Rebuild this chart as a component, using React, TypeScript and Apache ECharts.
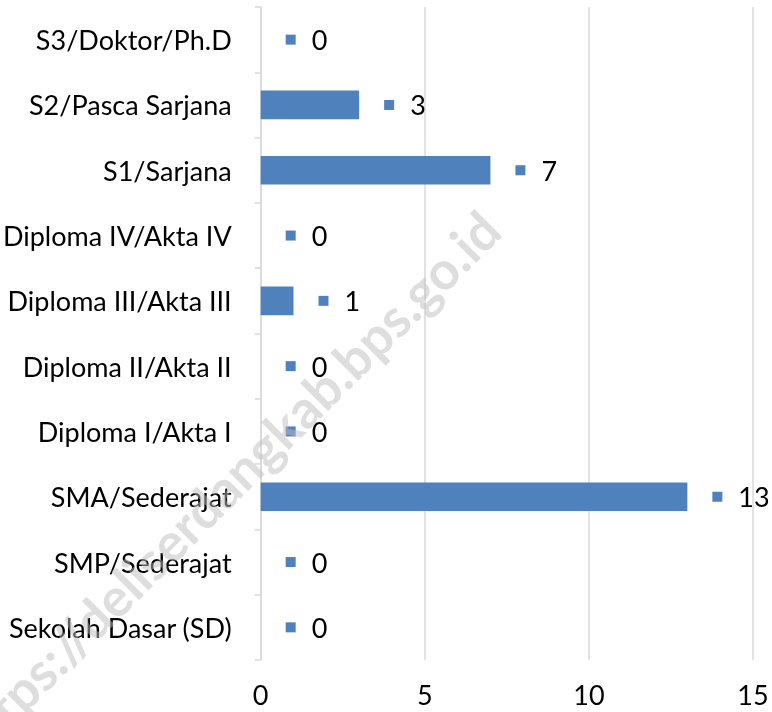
import React, { useEffect, useRef } from "react";
import * as echarts from "echarts";

const categories = [
  "Sekolah Dasar (SD)",
  "SMP/Sederajat",
  "SMA/Sederajat",
  "Diploma I/Akta I",
  "Diploma II/Akta II",
  "Diploma III/Akta III",
  "Diploma IV/Akta IV",
  "S1/Sarjana",
  "S2/Pasca Sarjana",
  "S3/Doktor/Ph.D",
];
const values = [0, 0, 13, 0, 0, 1, 0, 7, 3, 0];
const xTicks = { min: 0, max: 15, interval: 5 };
const watermark = "https://deliserdangkab.bps.go.id";

const FONT = "Lato, 'Open Sans', sans-serif";
const BAR = "#4F81BD";

export default function App() {
  const ref = useRef<HTMLDivElement>(null);
  useEffect(() => {
    if (!ref.current) return;
    const chart = echarts.init(ref.current, undefined, { renderer: "svg" });
    chart.setOption({
      animation: false,
      grid: { left: 259, right: 19, top: 7, bottom: 52, containLabel: false },
      xAxis: {
        type: "value",
        min: xTicks.min,
        max: xTicks.max,
        interval: xTicks.interval,
        axisLine: { show: false },
        axisTick: { show: false },
        splitLine: { show: true, lineStyle: { color: "#d9d9d9", width: 1.5 } },
        axisLabel: { fontFamily: FONT, fontSize: 27, color: "#000", margin: 21 },
      },
      yAxis: {
        type: "category",
        data: categories,
        boundaryGap: true,
        axisLine: { show: true, lineStyle: { color: "#d9d9d9", width: 1.5 } },
        axisTick: { show: true, length: 6, lineStyle: { color: "#d9d9d9", width: 1.5 } },
        axisLabel: { fontFamily: FONT, fontSize: 27, color: "#000", margin: 29 },
      },
      series: [
        {
          type: "bar",
          data: values,
          barWidth: "44%",
          itemStyle: { color: BAR },
          label: {
            show: true,
            position: "right",
            distance: 25,
            formatter: (p: any) => `{s|}{v|${p.value}}`,
            rich: {
              s: { width: 10, height: 10, backgroundColor: BAR },
              v: { fontFamily: FONT, fontSize: 27, color: "#000", padding: [0, 0, 0, 16] },
            },
          },
        },
      ],
      graphic: [
        {
          type: "text",
          x: 490,
          y: 220,
          rotation: Math.PI / 4,
          silent: true,
          z: 100,
          style: {
            text: watermark,
            fontFamily: FONT,
            fontSize: 53,
            fontWeight: "bold",
            fill: "rgba(190,190,190,0.5)",
            align: "right",
            verticalAlign: "middle",
          },
        },
      ],
    });
    return () => chart.dispose();
  }, []);
  return (
    <div
      ref={ref}
      style={{ position: "fixed", left: 0, top: 0, width: 772, height: 712 }}
    />
  );
}
